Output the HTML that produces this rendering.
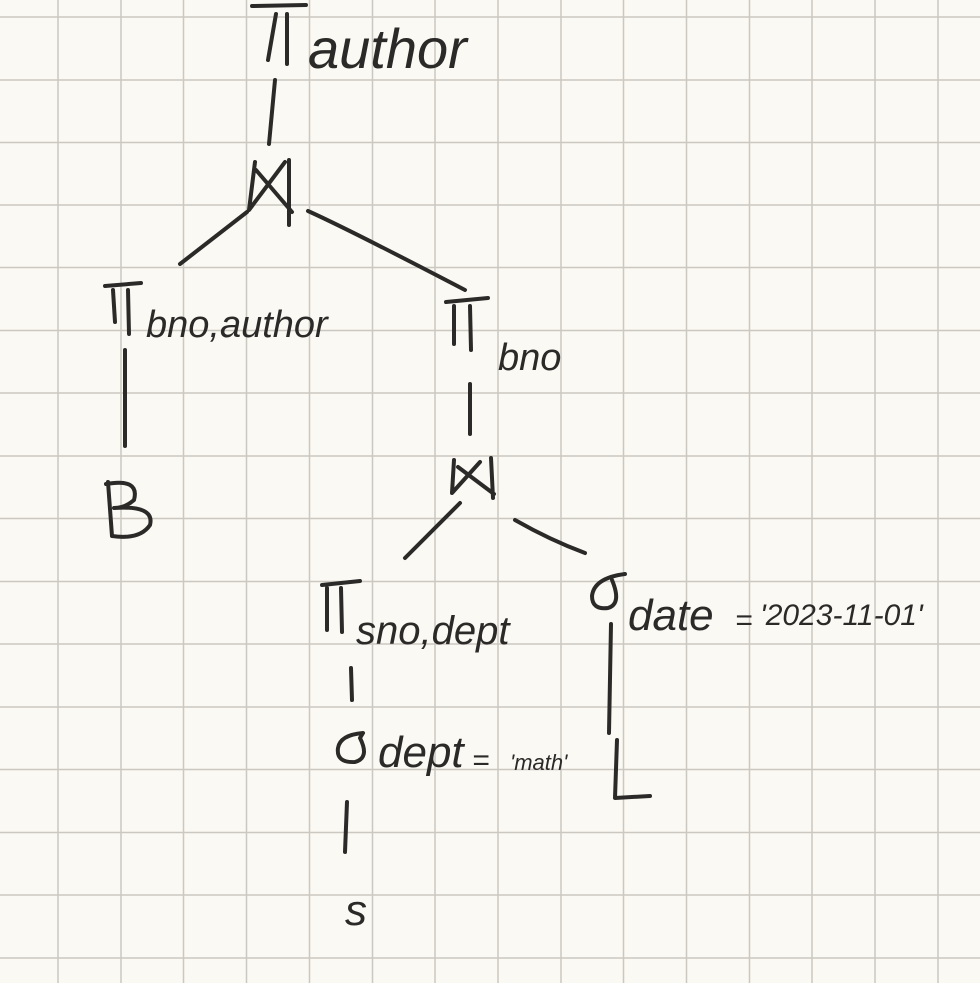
<!DOCTYPE html>
<html><head><meta charset="utf-8"><style>
html,body{margin:0;padding:0;background:#fbf9f3;}
svg{display:block}
text{font-family:"Liberation Sans",sans-serif;fill:#2b2a28;}
</style></head><body>
<svg width="980" height="983" viewBox="0 0 980 983" xmlns="http://www.w3.org/2000/svg">
<rect width="980" height="983" fill="#fbf9f3"/>
<g stroke="#cbc8c2" stroke-width="1.5">
<line x1="58" y1="0" x2="58" y2="983"/><line x1="121" y1="0" x2="121" y2="983"/><line x1="183.5" y1="0" x2="183.5" y2="983"/><line x1="246.5" y1="0" x2="246.5" y2="983"/><line x1="309.5" y1="0" x2="309.5" y2="983"/><line x1="372.5" y1="0" x2="372.5" y2="983"/><line x1="435" y1="0" x2="435" y2="983"/><line x1="498" y1="0" x2="498" y2="983"/><line x1="561" y1="0" x2="561" y2="983"/><line x1="623.5" y1="0" x2="623.5" y2="983"/><line x1="686.5" y1="0" x2="686.5" y2="983"/><line x1="749.5" y1="0" x2="749.5" y2="983"/><line x1="812" y1="0" x2="812" y2="983"/><line x1="875" y1="0" x2="875" y2="983"/><line x1="938" y1="0" x2="938" y2="983"/>
<line x1="0" y1="17" x2="980" y2="17"/><line x1="0" y1="80" x2="980" y2="80"/><line x1="0" y1="142.5" x2="980" y2="142.5"/><line x1="0" y1="205" x2="980" y2="205"/><line x1="0" y1="267.5" x2="980" y2="267.5"/><line x1="0" y1="330.5" x2="980" y2="330.5"/><line x1="0" y1="393" x2="980" y2="393"/><line x1="0" y1="456" x2="980" y2="456"/><line x1="0" y1="518.5" x2="980" y2="518.5"/><line x1="0" y1="581.5" x2="980" y2="581.5"/><line x1="0" y1="644" x2="980" y2="644"/><line x1="0" y1="707" x2="980" y2="707"/><line x1="0" y1="769.5" x2="980" y2="769.5"/><line x1="0" y1="832.5" x2="980" y2="832.5"/><line x1="0" y1="895" x2="980" y2="895"/><line x1="0" y1="958" x2="980" y2="958"/>
</g>
<g stroke="#2b2a28" stroke-width="4" fill="none" stroke-linecap="round" stroke-linejoin="round">
<!-- top pi -->
<path d="M252 6 L306 5 M276 14 L268 60 M287 14 L287 64"/>
<path d="M275 80 L269 144"/>
<!-- join 1 -->
<path d="M255 162 L249 210 L285 162 M256 170 L292 212 M289 160 L289 225"/>
<path d="M247 212 L180 264 M308 211 Q350 230 465 290"/>
<!-- pi bno,author -->
<path d="M105 286 L141 283 M113 290 L115 322 M128 290 L129 334"/>
<path d="M125 350 L125 446"/>
<!-- B -->
<path d="M108 482 L112 536 M106 484 Q140 478 134 500 Q125 508 114 508 Q155 505 150 525 Q140 540 112 536"/>
<!-- pi bno -->
<path d="M446 302 L488 298 M454 306 L454 344 M470 306 L471 350"/>
<path d="M470 384 L470 434"/>
<!-- join 2 -->
<path d="M454 460 L452 493 L480 462 M458 467 L494 494 M491 458 L493 498"/>
<path d="M460 503 L405 558 M515 520 Q550 540 585 553"/>
<!-- pi sno,dept -->
<path d="M322 585 L360 581 M327 588 L327 630 M341 588 L342 632"/>
<path d="M351 668 L352 700"/>
<path d="M347 802 L345 852"/>
<!-- sigma left -->
<path d="M363 733 Q340 735 338 748 Q336 763 355 762 Q370 758 360 738 Z" />
<!-- sigma date -->
<path d="M625 574 Q594 578 592 596 Q592 610 608 608 Q622 604 612 580"/>
<path d="M611 624 L609 733"/>
<!-- L -->
<path d="M617 740 L615 798 L650 796"/>
</g>
<g font-style="italic">
<text x="308" y="68" font-size="56" font-family="Liberation Serif">author</text>
<text x="146" y="337" font-size="38">bno,author</text>
<text x="498" y="370" font-size="38">bno</text>
<text x="356" y="644" font-size="40">sno,dept</text>
<text x="628" y="630" font-size="44">date</text>
<text x="735" y="630" font-size="30">=</text>
<text x="760" y="625" font-size="30">'2023-11-01'</text>
<text x="378" y="767" font-size="44">dept</text>
<text x="472" y="770" font-size="30">=</text>
<text x="510" y="770" font-size="22">'math'</text>
<text x="345" y="925" font-size="44">s</text>
</g>
</svg>
</body></html>
